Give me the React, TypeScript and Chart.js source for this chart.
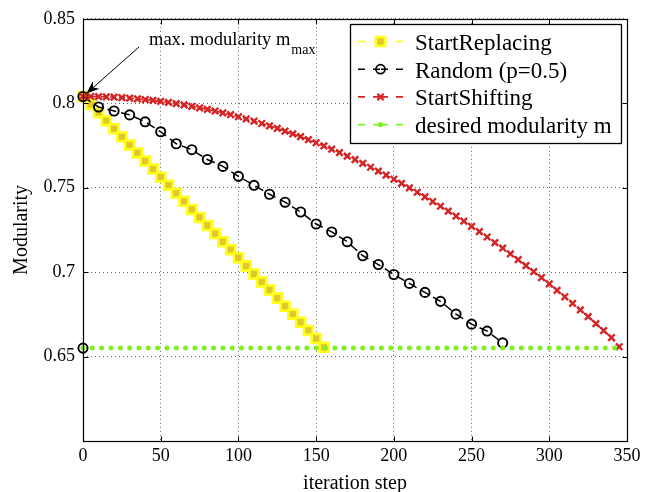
import { useEffect, useRef } from 'react';
import { Chart, registerables } from 'chart.js';

Chart.register(...registerables);

const FONT = '"Liberation Serif", "Times New Roman", serif';

const xTickValues = [0, 50, 100, 150, 200, 250, 300, 350];
const xTickLabels = ['0', '50', '100', '150', '200', '250', '300', '350'];
const yTickValues = [0.6, 0.65, 0.7, 0.75, 0.8, 0.85];
const yTickLabels = ['', '0.65', '0.7', '0.75', '0.8', '0.85'];

const legendLabels = ['StartReplacing', 'Random (p=0.5)', 'StartShifting', 'desired modularity m'];

const replacingX = [0, 5, 10, 15, 20, 25, 30, 35, 40, 45, 50, 55, 60, 65, 70, 75, 80, 85, 90, 95, 100, 105, 110, 115, 120, 125, 130, 135, 140, 145, 150, 155];
const replacingY = [0.804, 0.7992, 0.7944, 0.7897, 0.7849, 0.7801, 0.7753, 0.7706, 0.7658, 0.761, 0.7562, 0.7515, 0.7467, 0.7419, 0.7371, 0.7324, 0.7276, 0.7228, 0.718, 0.7133, 0.7085, 0.7037, 0.6989, 0.6942, 0.6894, 0.6846, 0.6798, 0.6751, 0.6703, 0.6655, 0.6607, 0.6555];

const randomX = [0, 10, 20, 30, 40, 50, 60, 70, 80, 90, 100, 110, 120, 130, 140, 150, 160, 170, 180, 190, 200, 210, 220, 230, 240, 250, 260, 270];
const randomY = [0.804, 0.7978, 0.7954, 0.7931, 0.789, 0.7831, 0.776, 0.7725, 0.7667, 0.7626, 0.7567, 0.7514, 0.7461, 0.7414, 0.7356, 0.7285, 0.7238, 0.718, 0.7097, 0.7045, 0.6986, 0.6933, 0.688, 0.6827, 0.6751, 0.6692, 0.6651, 0.6581];

const shiftingX = [0, 5, 10, 15, 20, 25, 30, 35, 40, 45, 50, 55, 60, 65, 70, 75, 80, 85, 90, 95, 100, 105, 110, 115, 120, 125, 130, 135, 140, 145, 150, 155, 160, 165, 170, 175, 180, 185, 190, 195, 200, 205, 210, 215, 220, 225, 230, 235, 240, 245, 250, 255, 260, 265, 270, 275, 280, 285, 290, 295, 300, 305, 310, 315, 320, 325, 330, 335, 340, 345];
const shiftingY = [0.804, 0.804, 0.8039, 0.8038, 0.8036, 0.8033, 0.803, 0.8026, 0.8022, 0.8017, 0.8011, 0.8005, 0.7998, 0.799, 0.7982, 0.7973, 0.7964, 0.7954, 0.7943, 0.7932, 0.792, 0.7907, 0.7894, 0.788, 0.7866, 0.7851, 0.7835, 0.7819, 0.7802, 0.7784, 0.7766, 0.7747, 0.7728, 0.7708, 0.7687, 0.7666, 0.7644, 0.7621, 0.7598, 0.7574, 0.755, 0.7525, 0.7499, 0.7473, 0.7446, 0.7418, 0.739, 0.7361, 0.7332, 0.7302, 0.7271, 0.724, 0.7208, 0.7175, 0.7142, 0.7108, 0.7074, 0.7039, 0.7003, 0.6967, 0.693, 0.6892, 0.6854, 0.6815, 0.6776, 0.6736, 0.6695, 0.6654, 0.6612, 0.6558];

const desiredX = [0, 6, 12, 18, 24, 30, 36, 42, 48, 54, 60, 66, 72, 78, 84, 90, 96, 102, 108, 114, 120, 126, 132, 138, 144, 150, 156, 162, 168, 174, 180, 186, 192, 198, 204, 210, 216, 222, 228, 234, 240, 246, 252, 258, 264, 270, 276, 282, 288, 294, 300, 306, 312, 318, 324, 330, 336, 342];
const desiredM = 0.655;
const maxModularity = 0.804;

const annotationText = 'max. modularity m';
const annotationSub = 'max';

const YELLOW_EDGE = '#ffff1a';
const YELLOW_FACE = '#e0c82c';
const RED = '#d42424';
const GREEN = '#7ff01f';

type Marker = 'rect' | 'circle' | 'cross' | 'dot';

function drawMarker(ctx: CanvasRenderingContext2D, m: Marker, x: number, y: number) {
  ctx.save();
  ctx.setLineDash([]);
  if (m === 'rect') {
    ctx.fillStyle = YELLOW_FACE;
    ctx.strokeStyle = YELLOW_EDGE;
    ctx.lineWidth = 2.6;
    ctx.beginPath();
    ctx.rect(x - 4.5, y - 4.5, 9, 9);
    ctx.fill();
    ctx.stroke();
  } else if (m === 'circle') {
    ctx.strokeStyle = '#000';
    ctx.lineWidth = 1.8;
    ctx.beginPath();
    ctx.arc(x, y, 4.5, 0, Math.PI * 2);
    ctx.stroke();
  } else if (m === 'cross') {
    ctx.strokeStyle = RED;
    ctx.lineWidth = 2.2;
    const d = 3.2;
    ctx.beginPath();
    ctx.moveTo(x - d, y - d);
    ctx.lineTo(x + d, y + d);
    ctx.moveTo(x + d, y - d);
    ctx.lineTo(x - d, y + d);
    ctx.stroke();
  } else {
    ctx.fillStyle = GREEN;
    ctx.beginPath();
    ctx.arc(x, y, 2.6, 0, Math.PI * 2);
    ctx.fill();
  }
  ctx.restore();
}

const overlayPlugin = {
  id: 'overlay',
  afterDatasetsDraw(chart: any) {
    const { ctx, chartArea: a, scales } = chart;
    const xs = scales.x;
    const ys = scales.y;
    ctx.save();

    // frame
    ctx.strokeStyle = '#000';
    ctx.lineWidth = 1.2;
    ctx.setLineDash([]);
    const L = Math.round(a.left) + 0.5;
    const T = Math.round(a.top) + 0.5;
    const R = Math.round(a.right) + 0.5;
    const B = Math.round(a.bottom) + 0.5;
    ctx.strokeRect(L, T, R - L, B - T);

    // inner ticks
    ctx.lineWidth = 1;
    ctx.beginPath();
    xTickValues.forEach((v) => {
      const px = Math.round(xs.getPixelForValue(v)) + 0.5;
      ctx.moveTo(px, B);
      ctx.lineTo(px, B - 5);
      ctx.moveTo(px, T);
      ctx.lineTo(px, T + 5);
    });
    yTickValues.forEach((v) => {
      const py = Math.round(ys.getPixelForValue(v)) + 0.5;
      ctx.moveTo(L, py);
      ctx.lineTo(L + 5, py);
      ctx.moveTo(R, py);
      ctx.lineTo(R - 5, py);
    });
    ctx.stroke();

    // annotation
    const cx = xs.getPixelForValue(0);
    const cy = ys.getPixelForValue(maxModularity);
    const sx = 139;
    const sy = 47;
    const dx = cx - sx;
    const dy = cy - sy;
    const len = Math.hypot(dx, dy);
    const ux = dx / len;
    const uy = dy / len;
    const tx = cx - ux * 4.5;
    const ty = cy - uy * 4.5;
    const nx = -uy;
    const ny = ux;
    const bx = tx - ux * 13;
    const by = ty - uy * 13;
    const kx = tx - ux * 9;
    const ky = ty - uy * 9;
    ctx.strokeStyle = '#000';
    ctx.lineWidth = 1;
    ctx.beginPath();
    ctx.moveTo(sx, sy);
    ctx.lineTo(kx, ky);
    ctx.stroke();
    ctx.fillStyle = '#000';
    ctx.beginPath();
    ctx.moveTo(tx, ty);
    ctx.lineTo(bx + nx * 5, by + ny * 5);
    ctx.lineTo(kx, ky);
    ctx.lineTo(bx - nx * 5, by - ny * 5);
    ctx.closePath();
    ctx.fill();

    ctx.fillStyle = '#000';
    ctx.textAlign = 'left';
    ctx.textBaseline = 'alphabetic';
    ctx.font = `18.5px ${FONT}`;
    ctx.fillText(annotationText, 149, 45);
    const w = ctx.measureText(annotationText).width;
    ctx.font = `14px ${FONT}`;
    ctx.fillText(annotationSub, 149 + w + 1, 54);

    // legend
    const lx = 350;
    const ly = 24;
    const lw = 271;
    const lh = 119;
    ctx.fillStyle = '#fff';
    ctx.fillRect(lx, ly, lw, lh);
    ctx.strokeStyle = '#000';
    ctx.lineWidth = 1.3;
    ctx.strokeRect(lx + 0.5, ly + 0.5, lw, lh);

    const rows: { color: string; marker: Marker }[] = [
      { color: YELLOW_EDGE, marker: 'rect' },
      { color: '#000', marker: 'circle' },
      { color: RED, marker: 'cross' },
      { color: GREEN, marker: 'dot' },
    ];
    rows.forEach((r, i) => {
      const base = ly + 26 + i * 27.7;
      const my = base - 8.5;
      const x0 = lx + 8;
      const x1 = lx + 53;
      const xm = (x0 + x1) / 2;
      ctx.strokeStyle = r.color;
      ctx.lineWidth = 1.6;
      ctx.setLineDash([7, 8]);
      ctx.beginPath();
      ctx.moveTo(x0, my);
      ctx.lineTo(xm, my);
      ctx.stroke();
      ctx.beginPath();
      ctx.moveTo(x1, my);
      ctx.lineTo(xm, my);
      ctx.stroke();
      ctx.setLineDash([]);
      drawMarker(ctx, r.marker, xm, my);
      ctx.fillStyle = '#000';
      ctx.font = `23px ${FONT}`;
      ctx.textBaseline = 'alphabetic';
      ctx.fillText(legendLabels[i], lx + 65, base);
    });

    ctx.restore();
  },
};

const pts = (xs: number[], ys: number[]) => xs.map((x, i) => ({ x, y: ys[i] }));

export default function App() {
  const ref = useRef<HTMLCanvasElement | null>(null);

  useEffect(() => {
    document.body.style.margin = '0';
    if (!ref.current) return;
    const chart = new Chart(ref.current, {
      type: 'line',
      data: {
        datasets: [
          {
            label: legendLabels[0],
            data: pts(replacingX, replacingY),
            borderColor: YELLOW_EDGE,
            borderWidth: 1.5,
            borderDash: [8, 6],
            pointStyle: 'rect',
            pointRadius: 6.3,
            pointBorderWidth: 2.6,
            pointBorderColor: YELLOW_EDGE,
            pointBackgroundColor: YELLOW_FACE,
            order: 5,
            clip: false,
          },
          {
            label: legendLabels[1],
            data: pts(randomX, randomY),
            borderColor: '#000',
            borderWidth: 1.5,
            borderDash: [9, 5],
            pointStyle: 'circle',
            pointRadius: 4.6,
            pointBorderWidth: 1.9,
            pointBorderColor: '#000',
            pointBackgroundColor: 'rgba(0,0,0,0)',
            order: 4,
            clip: false,
          },
          {
            label: legendLabels[2],
            data: pts(shiftingX, shiftingY),
            borderColor: RED,
            borderWidth: 1.6,
            borderDash: [6, 3],
            pointStyle: 'crossRot',
            pointRadius: 4.6,
            pointBorderWidth: 2.4,
            pointBorderColor: RED,
            order: 3,
            clip: false,
          },
          {
            label: 'desired start',
            data: [{ x: 0, y: desiredM }],
            showLine: false,
            pointStyle: 'circle',
            pointRadius: 4.6,
            pointBorderWidth: 1.9,
            pointBorderColor: '#000',
            pointBackgroundColor: 'rgba(0,0,0,0)',
            order: 2,
            clip: false,
          },
          {
            label: legendLabels[3],
            data: desiredX.map((x) => ({ x, y: desiredM })),
            showLine: false,
            pointStyle: 'circle',
            pointRadius: 2.5,
            pointBorderWidth: 0,
            pointBackgroundColor: GREEN,
            pointBorderColor: GREEN,
            order: 1,
            clip: false,
          },
        ],
      },
      options: {
        responsive: false,
        animation: false,
        events: [],
        layout: { padding: { top: 15, right: 26, left: 0, bottom: 0 } },
        plugins: { legend: { display: false }, tooltip: { enabled: false } },
        scales: {
          x: {
            type: 'linear',
            min: 0,
            max: 350,
            afterBuildTicks: (s: any) => {
              s.ticks = xTickValues.map((v) => ({ value: v }));
            },
            afterFit: (s: any) => {
              s.height = 51;
            },
            ticks: {
              color: '#000',
              font: { family: FONT, size: 18 },
              padding: 4,
              maxRotation: 0,
              autoSkip: false,
              callback: (v: any) => xTickLabels[xTickValues.indexOf(Number(v))] ?? '',
            },
            grid: { color: 'rgba(0,0,0,0.6)', lineWidth: 1, drawTicks: false },
            border: { display: false, dash: [1, 3] },
            title: {
              display: true,
              text: 'iteration step',
              color: '#000',
              font: { family: FONT, size: 20, lineHeight: 0.8 },
              padding: { top: 0, bottom: 0 },
            },
          },
          y: {
            type: 'linear',
            min: 0.6,
            max: 0.85,
            afterBuildTicks: (s: any) => {
              s.ticks = yTickValues.map((v) => ({ value: v }));
            },
            afterFit: (s: any) => {
              s.width = 83;
            },
            ticks: {
              color: '#000',
              font: { family: FONT, size: 18 },
              padding: 8,
              autoSkip: false,
              callback: (v: any) => {
                const i = yTickValues.findIndex((t) => Math.abs(t - Number(v)) < 1e-9);
                return i >= 0 ? yTickLabels[i] : '';
              },
            },
            grid: { color: 'rgba(0,0,0,0.6)', lineWidth: 1, drawTicks: false },
            border: { display: false, dash: [1, 3] },
            title: {
              display: true,
              text: 'Modularity',
              color: '#000',
              font: { family: FONT, size: 20, lineHeight: 1 },
              padding: { top: 12, bottom: 0 },
            },
          },
        },
      },
      plugins: [overlayPlugin],
    } as any);
    return () => chart.destroy();
  }, []);

  return <canvas ref={ref} width={653} height={492} style={{ display: 'block' }} />;
}
